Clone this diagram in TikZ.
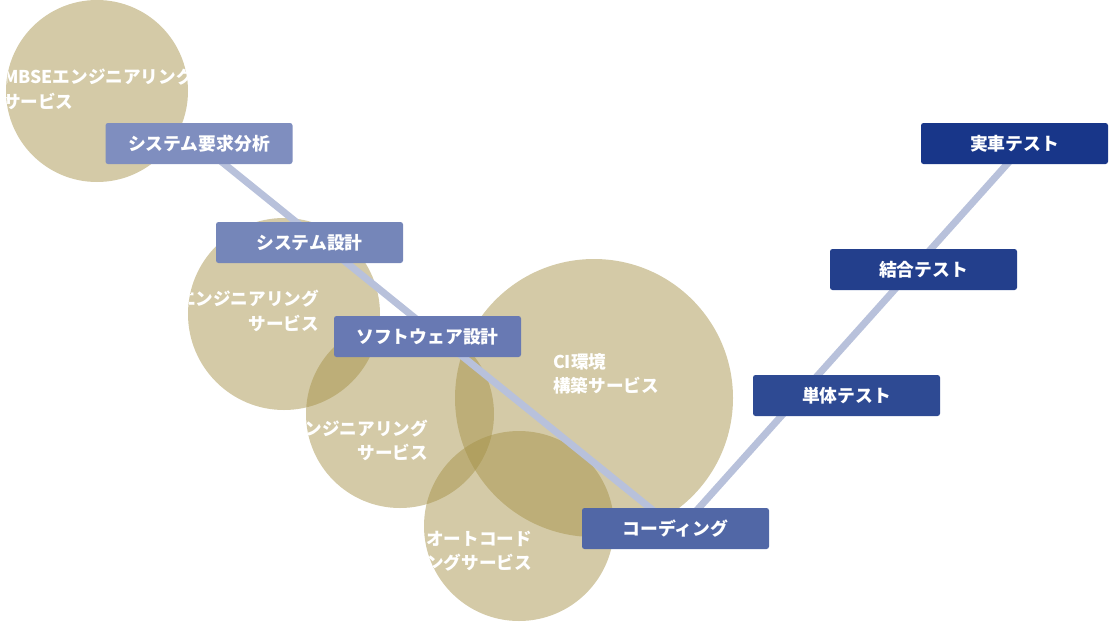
\documentclass[tikz,border=0pt]{standalone}
\usepackage{fontspec}
\newfontfamily\jp{Noto Sans CJK JP}
\definecolor{blobc}{RGB}{163,143,68}
\definecolor{lineblue}{RGB}{184,193,219}
\definecolor{cA}{RGB}{127,142,191}
\definecolor{cB}{RGB}{117,134,185}
\definecolor{cC}{RGB}{104,121,179}
\definecolor{cD}{RGB}{81,103,166}
\definecolor{cE}{RGB}{46,74,147}
\definecolor{cF}{RGB}{35,63,140}
\definecolor{cG}{RGB}{24,54,137}
\begin{document}
\begin{tikzpicture}[x=1pt,y=-1pt,
  stage/.style={rounded corners=2.5pt, minimum width=187pt, minimum height=41pt, inner sep=0pt, text=white, font=\jp\bfseries\fontsize{17.8}{20}\selectfont},
  vline/.style={line width=7pt, draw=lineblue},
  blob/.style={fill=blobc, fill opacity=0.47},
  ctext/.style={text=white, font=\jp\bfseries\fontsize{17.6}{20}\selectfont, inner sep=0pt}]
\useasboundingbox (0,0) rectangle (1109,622);
% circles
\fill[blob] (97,91) circle[radius=91];
\fill[blob] (284,314) circle[radius=96];
\fill[blob] (400,414) circle[radius=94];
\fill[blob] (594,398) circle[radius=139];
\fill[blob] (519,526) circle[radius=95];
% circle texts
\begin{scope}
\clip (97,91) circle[radius=91];
\node[ctext, anchor=base west] (t1a) at (3,83) {MBSEエンジニアリング};
\node[ctext, anchor=base west] (t1b) at (3,108) {サービス};
\end{scope}
\begin{scope}
\clip (284,314) circle[radius=96];
\node[ctext, anchor=base east] (t2a) at (319,305) {エンジニアリング};
\node[ctext, anchor=base east] (t2b) at (319,330) {サービス};
\end{scope}
\begin{scope}
\clip (400,414) circle[radius=94];
\node[ctext, anchor=base east] (t3a) at (428,435) {ンジニアリング};
\node[ctext, anchor=base east] (t3b) at (428,459) {サービス};
\end{scope}
\begin{scope}
\clip (594,398) circle[radius=139];
\node[ctext, anchor=base west] (t4a) at (553,368) {CI環境};
\node[ctext, anchor=base west] (t4b) at (553,392) {構築サービス};
\end{scope}
\begin{scope}
\clip (519,526) circle[radius=95];
\node[ctext, anchor=base east] (t5a) at (532,545) {オートコード};
\node[ctext, anchor=base east] (t5b) at (532,569) {ングサービス};
\end{scope}
% anchor points
\coordinate (preq) at (199,143.5);
\coordinate (psys) at (309.5,242.5);
\coordinate (psw) at (427.5,336.5);
\coordinate (pcode) at (675.5,528.5);
\coordinate (punit) at (846.5,395.5);
\coordinate (pint) at (923.5,269.5);
\coordinate (preal) at (1014.5,143.5);
% lines
\draw[vline] (preq) -- (pcode);
\draw[vline] ([xshift=5pt]pcode) -- ([xshift=11pt]preal);
% boxes
\node[stage, fill=cA] (req) at (preq) {システム要求分析};
\node[stage, fill=cB] (sys) at (psys) {システム設計};
\node[stage, fill=cC] (sw) at (psw) {ソフトウェア設計};
\node[stage, fill=cD] (code) at (pcode) {コーディング};
\node[stage, fill=cE] (unit) at (punit) {単体テスト};
\node[stage, fill=cF] (int) at (pint) {結合テスト};
\node[stage, fill=cG] (real) at (preal) {実車テスト};
\end{tikzpicture}
\end{document}
